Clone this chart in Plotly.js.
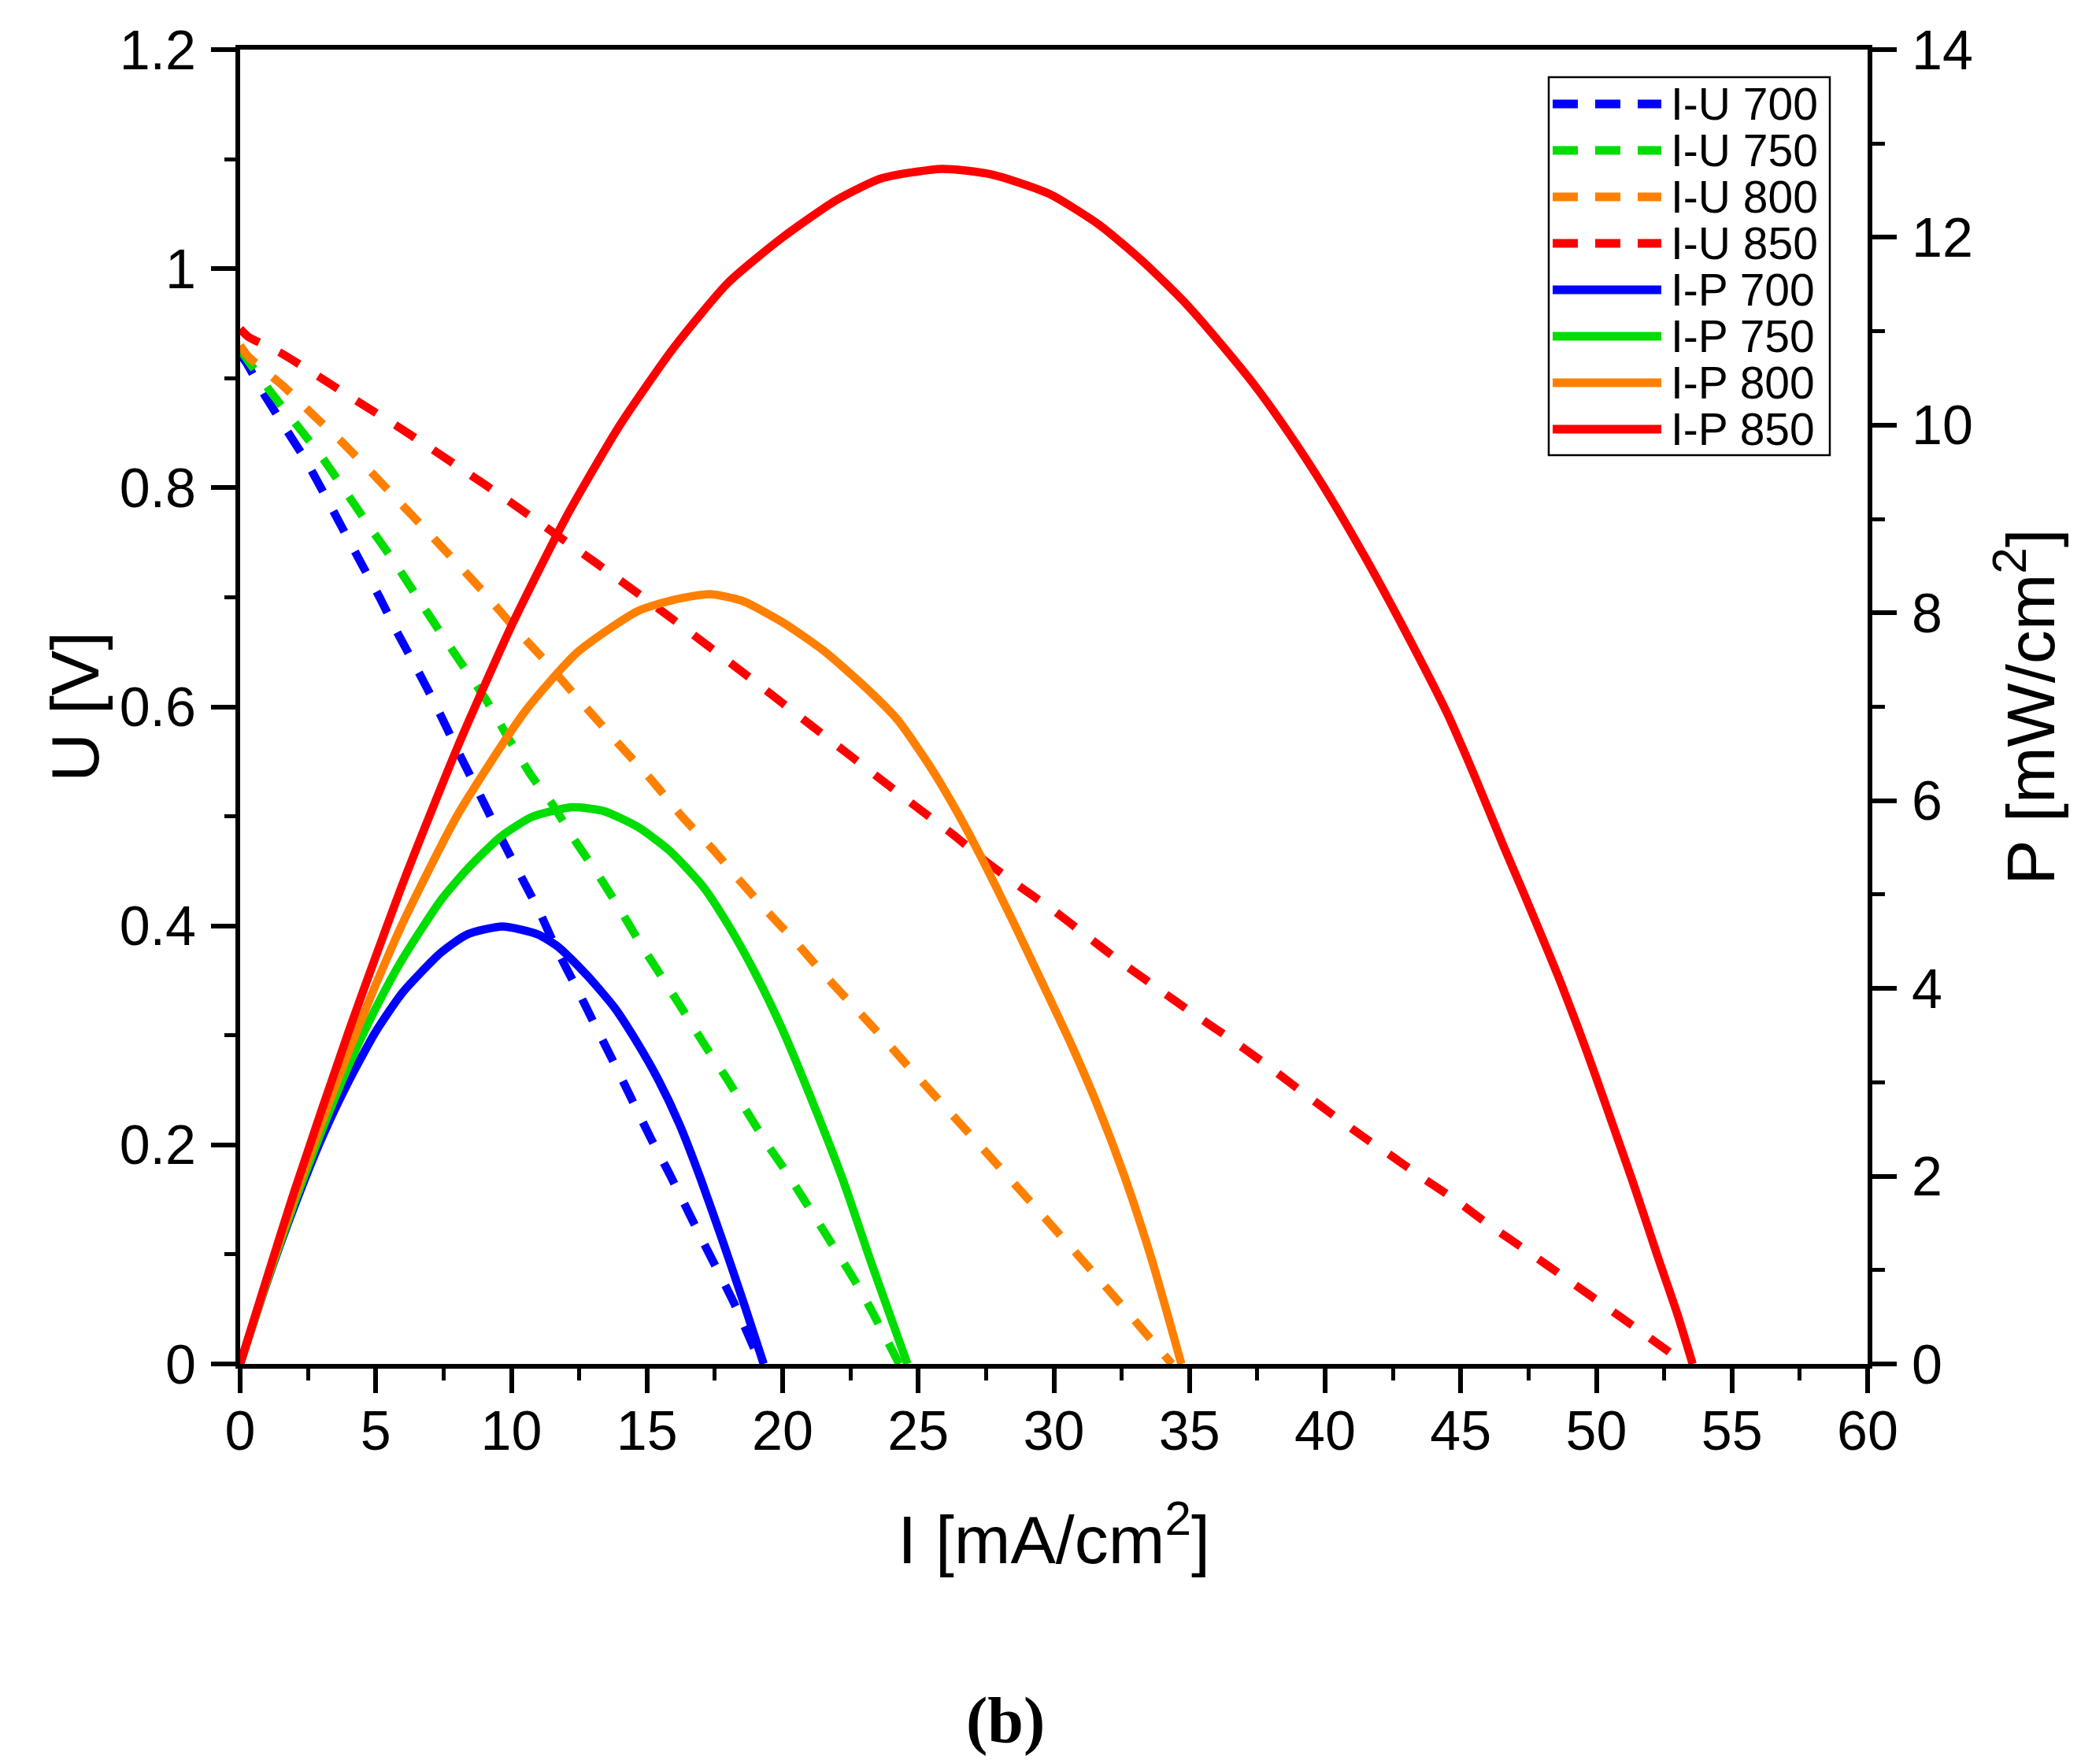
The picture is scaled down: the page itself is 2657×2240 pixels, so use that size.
<!DOCTYPE html>
<html>
<head>
<meta charset="utf-8">
<script src="https://cdn.plot.ly/plotly-3.0.1.min.js"></script>
<style>
  html, body { margin: 0; padding: 0; background: #fff; }
  #chart { width: 2657px; height: 2240px; }
</style>
</head>
<body>
<div id="chart"></div>
<script>
// I-U and I-P curves at four temperatures.
// I in mA/cm2, U in V (left axis), P in mW/cm2 (right axis).

const iU700 = [0, 0.23, 0.87, 1.65, 2.42, 3.13, 3.75, 4.42, 5.16, 5.79, 6.53, 7.16, 8.1, 9.05, 9.77, 10.4, 11.03, 11.66, 12.39, 13.09, 13.82, 14.45, 15.14, 15.82, 17.0, 18.2, 19.2];
const u700 = [0.922, 0.914, 0.886, 0.855, 0.825, 0.793, 0.764, 0.733, 0.699, 0.668, 0.634, 0.604, 0.556, 0.509, 0.473, 0.443, 0.413, 0.379, 0.344, 0.309, 0.273, 0.241, 0.206, 0.174, 0.115, 0.056, 0];

const iU750 = [0, 1.11, 2.13, 3.10, 3.93, 4.81, 5.69, 6.56, 7.38, 8.2, 9.1, 9.9, 10.74, 11.51, 12.34, 13.19, 13.98, 14.8, 15.58, 16.3, 17.08, 17.93, 18.67, 19.45, 20.17, 21.5, 22.9, 24.3];
const u750 = [0.926, 0.888, 0.856, 0.825, 0.795, 0.763, 0.732, 0.699, 0.668, 0.638, 0.605, 0.571, 0.537, 0.511, 0.478, 0.447, 0.416, 0.382, 0.352, 0.324, 0.293, 0.261, 0.231, 0.2, 0.174, 0.122, 0.066, 0];

const iU800 = [0, 0.29, 1.58, 2.71, 3.7, 4.84, 5.83, 6.94, 7.96, 9.0, 10.08, 11.17, 12.19, 13.7, 15.24, 16.28, 17.42, 18.43, 19.4, 20.42, 21.48, 23.61, 24.62, 27.0, 29.5, 32.0, 34.35];
const u800 = [0.93, 0.92, 0.893, 0.866, 0.843, 0.814, 0.788, 0.759, 0.732, 0.704, 0.673, 0.644, 0.615, 0.573, 0.531, 0.5, 0.47, 0.441, 0.414, 0.387, 0.357, 0.3, 0.272, 0.207, 0.138, 0.068, 0];

const iU850 = [0, 0.29, 1.5, 2.93, 4.32, 5.74, 7.09, 8.35, 9.61, 10.98, 12.29, 13.59, 16, 18.5, 21, 23.71, 24.96, 26.25, 27.48, 28.73, 29.94, 31.2, 32.41, 33.71, 35.07, 36.38, 37.68, 39.04, 40.25, 41.6, 42.33, 43.59, 44.85, 46.1, 47.22, 49, 51, 53.3];
const u850 = [0.945, 0.938, 0.923, 0.901, 0.879, 0.857, 0.835, 0.814, 0.793, 0.769, 0.746, 0.723, 0.679, 0.632, 0.584, 0.532, 0.508, 0.484, 0.459, 0.436, 0.415, 0.391, 0.368, 0.345, 0.321, 0.299, 0.276, 0.2505, 0.228, 0.204, 0.192, 0.17, 0.149, 0.126, 0.107, 0.076, 0.041, 0];

const iP700 = [0, 1, 2, 3, 4, 5, 6, 7.4, 8.37, 9.67, 10.98, 11.76, 12.82, 13.79, 14.56, 15.43, 16.2, 16.98, 17.8, 18.6, 19.3];
const p700 = [0, 0.88, 1.68, 2.4, 3.01, 3.54, 3.96, 4.38, 4.575, 4.66, 4.575, 4.435, 4.13, 3.8, 3.46, 3.02, 2.55, 1.97, 1.3, 0.62, 0];

const iP750 = [0, 1, 2, 3, 4, 5, 6, 7.4, 8.37, 9.62, 10.78, 12.24, 13.4, 14.66, 15.82, 17.08, 18.05, 19.01, 19.98, 20.95, 22.21, 23.3, 24.6];
const p750 = [0, 0.89, 1.72, 2.48, 3.18, 3.79, 4.32, 4.94, 5.27, 5.62, 5.83, 5.93, 5.89, 5.72, 5.47, 5.08, 4.65, 4.15, 3.57, 2.9, 1.97, 1.05, 0];

const iP800 = [0, 1, 2, 3, 4, 5, 6, 8, 10.5, 12.43, 14.66, 16, 17.3, 18.5, 20, 21.5, 23.08, 24.24, 25.4, 26.47, 27.44, 28.5, 29.57, 30.63, 31.6, 32.6, 33.6, 34.7];
const p800 = [0, 0.91, 1.77, 2.57, 3.33, 4.04, 4.7, 5.84, 6.95, 7.58, 8.02, 8.14, 8.2, 8.13, 7.9, 7.6, 7.2, 6.86, 6.38, 5.86, 5.33, 4.71, 4.06, 3.41, 2.76, 2.0, 1.12, 0];

const iP850 = [0, 2, 4, 6, 8, 10, 12, 14, 16, 18, 20, 22, 23.66, 25.88, 27.71, 29.85, 31.69, 33.33, 34.88, 36.23, 37.49, 38.65, 40, 41.5, 43, 44.5, 45.5, 46.6, 47.27, 47.95, 48.62, 49.3, 49.98, 50.65, 51.33, 51.91, 52.3, 53.0, 53.55];
const p850 = [0, 1.84, 3.54, 5.12, 6.56, 7.86, 9.01, 10.0, 10.83, 11.52, 12.0, 12.4, 12.63, 12.73, 12.67, 12.46, 12.13, 11.73, 11.29, 10.84, 10.39, 9.92, 9.32, 8.58, 7.78, 6.93, 6.27, 5.5, 5.05, 4.58, 4.11, 3.6, 3.06, 2.51, 1.95, 1.45, 1.11, 0.52, 0];

const legendLabels = ["I-U 700", "I-U 750", "I-U 800", "I-U 850", "I-P 700", "I-P 750", "I-P 800", "I-P 850"];

const COLORS = { 700: "#0000ff", 750: "#00dd00", 800: "#ff8000", 850: "#ff0000" };
const FONT = '"Liberation Sans", Arial, sans-serif';
const LW = 10.5;
const DASH = "30px,28px";

function ivTrace(x, y, temp) {
  return {
    x, y, type: "scatter", mode: "lines", yaxis: "y",
    line: { color: COLORS[temp], width: LW, dash: DASH, shape: "spline", smoothing: 0.6 },
    name: "I-U " + temp, showlegend: false,
  };
}
function ipTrace(x, y, temp) {
  return {
    x, y, type: "scatter", mode: "lines", yaxis: "y2",
    line: { color: COLORS[temp], width: LW, shape: "spline", smoothing: 0.6 },
    name: "I-P " + temp, showlegend: false,
  };
}

const traces = [
  ivTrace(iU700, u700, 700),
  ivTrace(iU750, u750, 750),
  ivTrace(iU800, u800, 800),
  ivTrace(iU850, u850, 850),
  ipTrace(iP700, p700, 700),
  ipTrace(iP750, p750, 750),
  ipTrace(iP800, p800, 800),
  ipTrace(iP850, p850, 850),
];

const axisCommon = {
  showgrid: false,
  zeroline: false,
  showline: true,
  linecolor: "#000",
  linewidth: 6,
  ticks: "outside",
  ticklen: 31,
  tickwidth: 6,
  tickcolor: "#000",
  tickfont: { family: FONT, size: 70, color: "#000" },
};
const titleFont = { family: FONT, size: 86, color: "#000" };

// hand-drawn legend box in paper coords (native legend can't do long sample lines)
const plotL = 305, plotR = 2372, plotT = 63, plotB = 1732;
const px = (v) => (v - plotL) / (plotR - plotL);
const py = (v) => (plotB - v) / (plotB - plotT);

const shapes = [{
  type: "rect", xref: "paper", yref: "paper",
  x0: px(1967), x1: px(2324), y0: py(578), y1: py(98),
  line: { color: "#000", width: 2.5 }, fillcolor: "#fff", layer: "above",
}];
const annotations = [];
const legendTemps = [700, 750, 800, 850, 700, 750, 800, 850];
legendLabels.forEach((label, k) => {
  const rowY = py(132 + 59 * k);
  shapes.push({
    type: "line", xref: "paper", yref: "paper",
    x0: px(1972), x1: px(2110), y0: rowY, y1: rowY,
    line: { color: COLORS[legendTemps[k]], width: 11, dash: k < 4 ? "32px,22px" : "solid" },
  });
  annotations.push({
    xref: "paper", yref: "paper", x: px(2120), y: rowY,
    xanchor: "left", yanchor: "middle", showarrow: false,
    text: label, font: { family: FONT, size: 57, color: "#000" },
  });
});
annotations.push({
  xref: "paper", yref: "paper", x: px(1277), y: py(2184),
  xanchor: "center", yanchor: "middle", showarrow: false,
  text: "<b>(b)</b>",
  font: { family: '"Liberation Serif", "Times New Roman", serif', size: 82, color: "#000" },
});

const layout = {
  width: 2657,
  height: 2240,
  paper_bgcolor: "#fff",
  plot_bgcolor: "#fff",
  margin: { l: plotL, r: 2657 - plotR, t: plotT, b: 2240 - plotB, pad: 0 },
  showlegend: false,
  xaxis: Object.assign({}, axisCommon, {
    range: [0, 60], tick0: 0, dtick: 5, mirror: true,
    ticklabelstandoff: -12,
    minor: { dtick: 2.5, ticks: "outside", ticklen: 15, tickwidth: 5, tickcolor: "#000" },
    title: { text: "I [mA/cm<sup>2</sup>]", font: titleFont, standoff: 72 },
  }),
  yaxis: Object.assign({}, axisCommon, {
    range: [0, 1.2], tick0: 0, dtick: 0.2,
    ticklabelstandoff: 5,
    minor: { dtick: 0.1, ticks: "outside", ticklen: 14, tickwidth: 5, tickcolor: "#000" },
    title: { text: "U [V]", font: titleFont, standoff: 0 },
  }),
  yaxis2: Object.assign({}, axisCommon, {
    range: [0, 14], tick0: 0, dtick: 2,
    overlaying: "y", side: "right",
    ticklabelstandoff: 5,
    minor: { dtick: 1, ticks: "outside", ticklen: 16, tickwidth: 5, tickcolor: "#000" },
    title: { text: "P [mW/cm<sup>2</sup>]", font: titleFont, standoff: 46 },
  }),
  shapes,
  annotations,
};

Plotly.newPlot("chart", traces, layout, { staticPlot: true, displayModeBar: false });
</script>
</body>
</html>
